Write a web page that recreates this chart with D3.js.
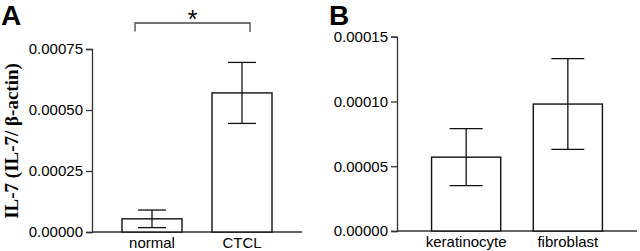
<!DOCTYPE html>
<html><head><meta charset="utf-8">
<script src="https://cdn.jsdelivr.net/npm/d3@7"></script>
<style>body{margin:0;background:#fff}svg{display:block}</style>
</head><body><svg id="c" width="640" height="251"></svg>
<script>
// Panel A data
const catsA = ["normal", "CTCL"];
const meanA = [0.000054, 0.00057];
const errA = [0.000036, 0.000125];
const ticksA = [0, 0.00025, 0.0005, 0.00075];
// Panel B data
const catsB = ["keratinocyte", "fibroblast"];
const meanB = [0.000057, 0.000098];
const errB = [0.000022, 0.000035];
const ticksB = [0, 0.00005, 0.0001, 0.00015];

const svg = d3.select("#c");
const sans = "'Liberation Sans', Arial, Helvetica, sans-serif";
const axisCol = "#333";

function panel(cfg) {
  const y = d3.scaleLinear().domain([0, cfg.ymax]).range([cfg.y0, cfg.y1]);
  const x = d3.scaleBand().domain(cfg.cats).range([cfg.x0, cfg.x1])
    .paddingInner(cfg.pi).paddingOuter(cfg.po);
  const g = svg.append("g");
  const ya = g.append("g").attr("transform", `translate(${cfg.x0},0)`)
    .call(d3.axisLeft(y).tickValues(cfg.ticks).tickFormat(d3.format(".5f")).tickSize(6).tickPadding(3));
  ya.select(".domain").attr("stroke", axisCol).attr("stroke-width", 1.3);
  ya.selectAll(".tick line").attr("stroke", axisCol).attr("stroke-width", 1.3);
  ya.selectAll("text").attr("font-family", sans).attr("font-size", 15).attr("fill", "#000");
  g.append("line").attr("x1", cfg.x0).attr("x2", cfg.x1).attr("y1", y(0)).attr("y2", y(0))
    .attr("stroke", axisCol).attr("stroke-width", 1.5);
  g.selectAll("rect.b").data(cfg.cats).enter().append("rect")
    .attr("x", d => x(d)).attr("width", x.bandwidth())
    .attr("y", (d, i) => y(cfg.mean[i])).attr("height", (d, i) => y(0) - y(cfg.mean[i]))
    .attr("fill", "#fff").attr("stroke", "#111").attr("stroke-width", 1.4);
  cfg.cats.forEach((d, i) => {
    const cx = x(d) + x.bandwidth() / 2;
    const hi = y(cfg.mean[i] + cfg.err[i]), lo = y(cfg.mean[i] - cfg.err[i]);
    const hw = cfg.cap;
    g.append("line").attr("x1", cx).attr("x2", cx).attr("y1", hi).attr("y2", lo).attr("stroke", "#111").attr("stroke-width", 1.3);
    g.append("line").attr("x1", cx - hw).attr("x2", cx + hw).attr("y1", hi).attr("y2", hi).attr("stroke", "#111").attr("stroke-width", 1.3);
    g.append("line").attr("x1", cx - hw).attr("x2", cx + hw).attr("y1", lo).attr("y2", lo).attr("stroke", "#111").attr("stroke-width", 1.3);
  });
  g.selectAll("text.cat").data(cfg.cats).enter().append("text")
    .attr("x", d => x(d) + x.bandwidth() / 2).attr("y", y(0) + 16)
    .attr("text-anchor", "middle").attr("font-family", sans).attr("font-size", 15).attr("fill", "#000")
    .text(d => d);
  g.append("text").attr("x", cfg.lx).attr("y", 25).attr("font-family", sans)
    .attr("font-weight", "bold").attr("font-size", 28).attr("fill", "#000").text(cfg.letter);
  return {x, y, g};
}

const A = panel({cats: catsA, mean: meanA, err: errA, ticks: ticksA, ymax: 0.00075,
  y0: 232, y1: 49, x0: 92, x1: 302, pi: 1/3, po: 1/3, cap: 14, letter: "A", lx: 1});
const B = panel({cats: catsB, mean: meanB, err: errB, ticks: ticksB, ymax: 0.00015,
  y0: 231, y1: 36.7, x0: 397, x1: 637, pi: 0.32, po: 0.34, cap: 16.5, letter: "B", lx: 329});

// significance bracket in panel A
const c1 = A.x("normal") + A.x.bandwidth() / 2 - 17;
const c2 = A.x("CTCL") + A.x.bandwidth() / 2 + 8;
A.g.append("path").attr("d", `M${c1},31.5V23H${c2}V32`).attr("fill", "none")
  .attr("stroke", "#444").attr("stroke-width", 1.3);
A.g.append("text").attr("x", (c1 + c2) / 2).attr("y", 28).attr("text-anchor", "middle")
  .attr("font-family", sans).attr("font-size", 25).attr("fill", "#000").text("*");

// y axis title
svg.append("text").attr("transform", "translate(18,141) rotate(-90)")
  .attr("text-anchor", "middle").attr("font-family", "'Liberation Serif', 'Times New Roman', serif")
  .attr("font-weight", "bold").attr("font-size", 19).attr("fill", "#000")
  .text("IL-7 (IL-7/ β-actin)");
</script></body></html>
